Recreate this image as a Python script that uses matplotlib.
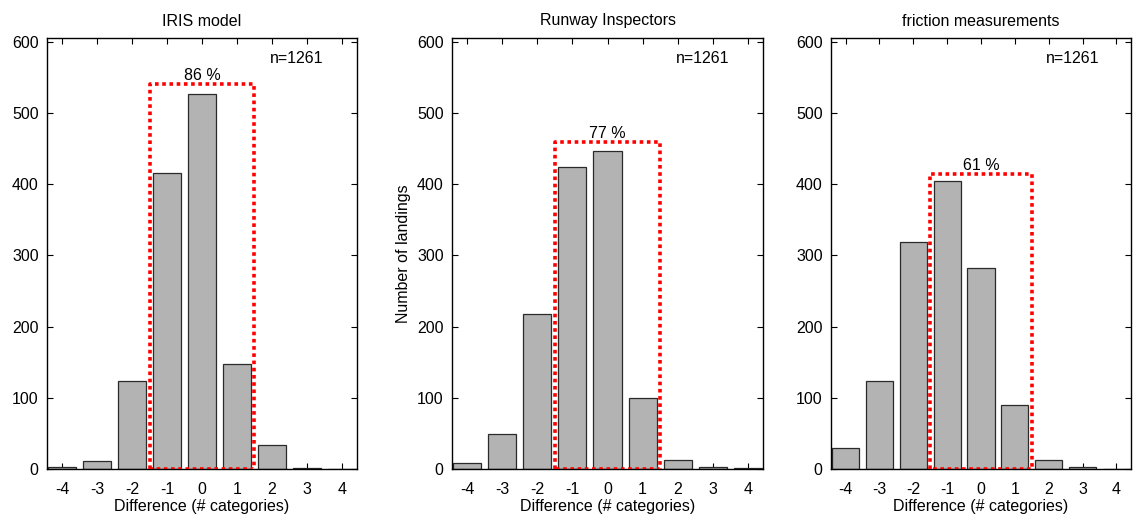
import numpy as np
import matplotlib.pyplot as plt

plt.rcParams['font.family'] = ['Liberation Sans', 'DejaVu Sans']

# difference in categories
diff = [-4, -3, -2, -1, 0, 1, 2, 3, 4]

# counts per panel
iris_counts = [3, 11, 123, 415, 527, 148, 33, 1, 0]
inspector_counts = [8, 49, 217, 424, 447, 100, 12, 3, 1]
friction_counts = [29, 123, 318, 404, 282, 90, 12, 3, 0]

titles = ['IRIS model', 'Runway Inspectors', 'friction measurements']
pct_labels = ['86 %', '77 %', '61 %']
box_tops = [540, 459, 414]
n_label = 'n=1261'

all_counts = [iris_counts, inspector_counts, friction_counts]
lefts = [47, 452, 831]
widths = [310, 311, 300]
fs = 11.5

fig = plt.figure(figsize=(11.34, 5.14), dpi=100)

for i in range(3):
    ax = fig.add_axes([lefts[i] / 1134, 1 - 469 / 514, widths[i] / 1134, 431 / 514])
    counts = all_counts[i]
    ax.bar(diff, counts, width=0.8, color='#b3b3b3', edgecolor='#2a2a2a', linewidth=0.9, zorder=2)

    # box around -1..1
    ax.plot([-1.5, -1.5, 1.5, 1.5, -1.5], [0, box_tops[i], box_tops[i], 0, 0],
            color='red', linestyle=(0, (1, 1)), linewidth=2.6, zorder=3)
    ax.text(0, box_tops[i] + 2, pct_labels[i], ha='center', va='bottom', fontsize=fs)
    ax.text(2.7, 576, n_label, ha='center', va='center', fontsize=fs)

    ax.set_xlim(-4.43, 4.43)
    ax.set_ylim(0, 605)
    ax.set_xticks(diff)
    ax.set_xticklabels([str(d) for d in diff])
    ax.set_yticks([0, 100, 200, 300, 400, 500, 600])
    ax.tick_params(direction='in', top=True, right=True, length=4, width=0.8, labelsize=fs)
    ax.tick_params(axis='x', pad=9)
    ax.tick_params(axis='y', pad=6)
    for s in ax.spines.values():
        s.set_linewidth(1.0)
    ax.set_title(titles[i], fontsize=fs, pad=9)
    ax.set_xlabel('Difference (# categories)', fontsize=fs, labelpad=2)
    if i == 1:
        ax.set_ylabel('Number of landings', fontsize=fs)

fig.savefig('out.png', dpi=100)
